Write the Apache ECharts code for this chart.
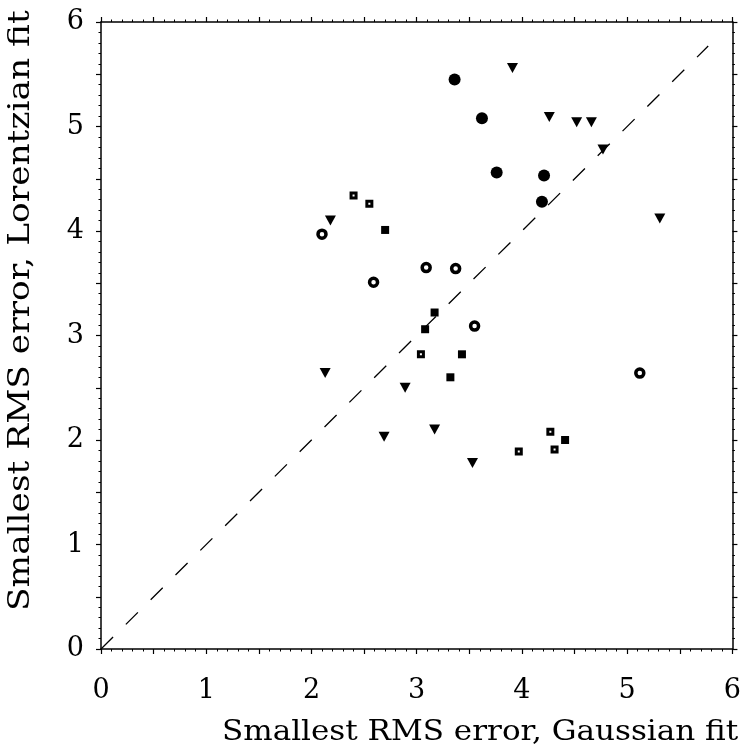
<!DOCTYPE html>
<html><head><meta charset="utf-8">
<script src="https://cdn.jsdelivr.net/npm/echarts@6/dist/echarts.min.js"></script>
<style>html,body{margin:0;padding:0;background:#fff}#c{width:744px;height:755px}</style>
</head><body><div id="c"></div>
<script>
// ---- data (x = Gaussian-fit RMS error, y = Lorentzian-fit RMS error) ----
const tickLabels = [0, 1, 2, 3, 4, 5, 6];
const xTitle = 'Smallest RMS error, Gaussian fit';
const yTitle = 'Smallest RMS error, Lorentzian fit';
const diagLine = [[0, 0], [5.77, 5.77]];
const filledCircles = [[3.36, 5.45], [3.62, 5.08], [3.76, 4.56], [4.21, 4.53], [4.19, 4.28]];
const triangles = [[3.91, 5.56], [4.26, 5.09], [4.52, 5.04], [4.66, 5.04], [4.77, 4.78], [5.31, 4.12],
                   [2.18, 4.10], [2.13, 2.64], [2.89, 2.50], [2.69, 2.03], [3.17, 2.10], [3.53, 1.78]];
const openCircles = [[2.10, 3.97], [2.59, 3.51], [3.09, 3.65], [3.37, 3.64], [3.55, 3.09], [5.12, 2.64]];
const filledSquares = [[2.70, 4.01], [3.17, 3.22], [3.08, 3.06], [3.43, 2.82], [3.32, 2.60], [4.41, 2.00]];
const openSquares = [[2.40, 4.34], [2.55, 4.26], [3.04, 2.82], [3.97, 1.89], [4.27, 2.08], [4.31, 1.91]];

const FONT = '"DejaVu Serif", "Liberation Serif", serif';
function fmt(v) { return tickLabels.indexOf(v) >= 0 ? String(v) : ''; }
function axis(pos, showLabel, margin) {
  return {
    type: 'value', min: 0, max: 6, interval: 0.5, position: pos, gridIndex: 0,
    axisLine: { show: true, onZero: false, lineStyle: { color: '#000', width: 1.5 } },
    axisTick: { show: true, inside: false, length: 5, lineStyle: { color: '#000', width: 1.2 } },
    minorTick: { show: true, splitNumber: 5, length: 2.5, lineStyle: { color: '#000', width: 1 } },
    splitLine: { show: false }, minorSplitLine: { show: false },
    axisLabel: { show: showLabel, formatter: fmt, color: '#000', fontFamily: FONT, fontSize: 27, margin: margin,
                 showMinLabel: true, showMaxLabel: true }
  };
}
const chart = echarts.init(document.getElementById('c'), null, { renderer: 'canvas' });
chart.setOption({
  animation: false,
  backgroundColor: '#fff',
  grid: { left: 101, top: 22, width: 634, height: 627, containLabel: false },
  xAxis: [axis('bottom', true, 28), axis('top', false, 8)],
  yAxis: [axis('left', true, 17), axis('right', false, 8)],
  graphic: [
    { type: 'text', x: 222, y: 719, scaleX: 1.108,
      style: { text: xTitle, font: '28px ' + FONT, fill: '#000', textAlign: 'left', textVerticalAlign: 'top' } },
    { type: 'text', x: 7, y: 611, rotation: Math.PI / 2, scaleX: 1.185,
      style: { text: yTitle, font: '29px ' + FONT, fill: '#000', textAlign: 'left', textVerticalAlign: 'top' } }
  ],
  series: [
    { type: 'line', data: diagLine, symbol: 'none', silent: true,
      lineStyle: { color: '#000', width: 1.3, type: [17, 18] } },
    { type: 'scatter', data: filledCircles, symbol: 'circle', symbolSize: 12,
      itemStyle: { color: '#000', opacity: 1 } },
    { type: 'scatter', data: triangles, symbol: 'triangle', symbolSize: [11, 10], symbolRotate: 180,
      itemStyle: { color: '#000', opacity: 1 } },
    { type: 'scatter', data: openCircles, symbol: 'circle', symbolSize: 8,
      itemStyle: { color: '#fff', borderColor: '#000', borderWidth: 3.5, opacity: 1 } },
    { type: 'scatter', data: filledSquares, symbol: 'rect', symbolSize: 8,
      itemStyle: { color: '#000', opacity: 1 } },
    { type: 'scatter', data: openSquares, symbol: 'rect', symbolSize: 5,
      itemStyle: { color: '#fff', borderColor: '#000', borderWidth: 3, opacity: 1 } }
  ]
});
</script></body></html>
